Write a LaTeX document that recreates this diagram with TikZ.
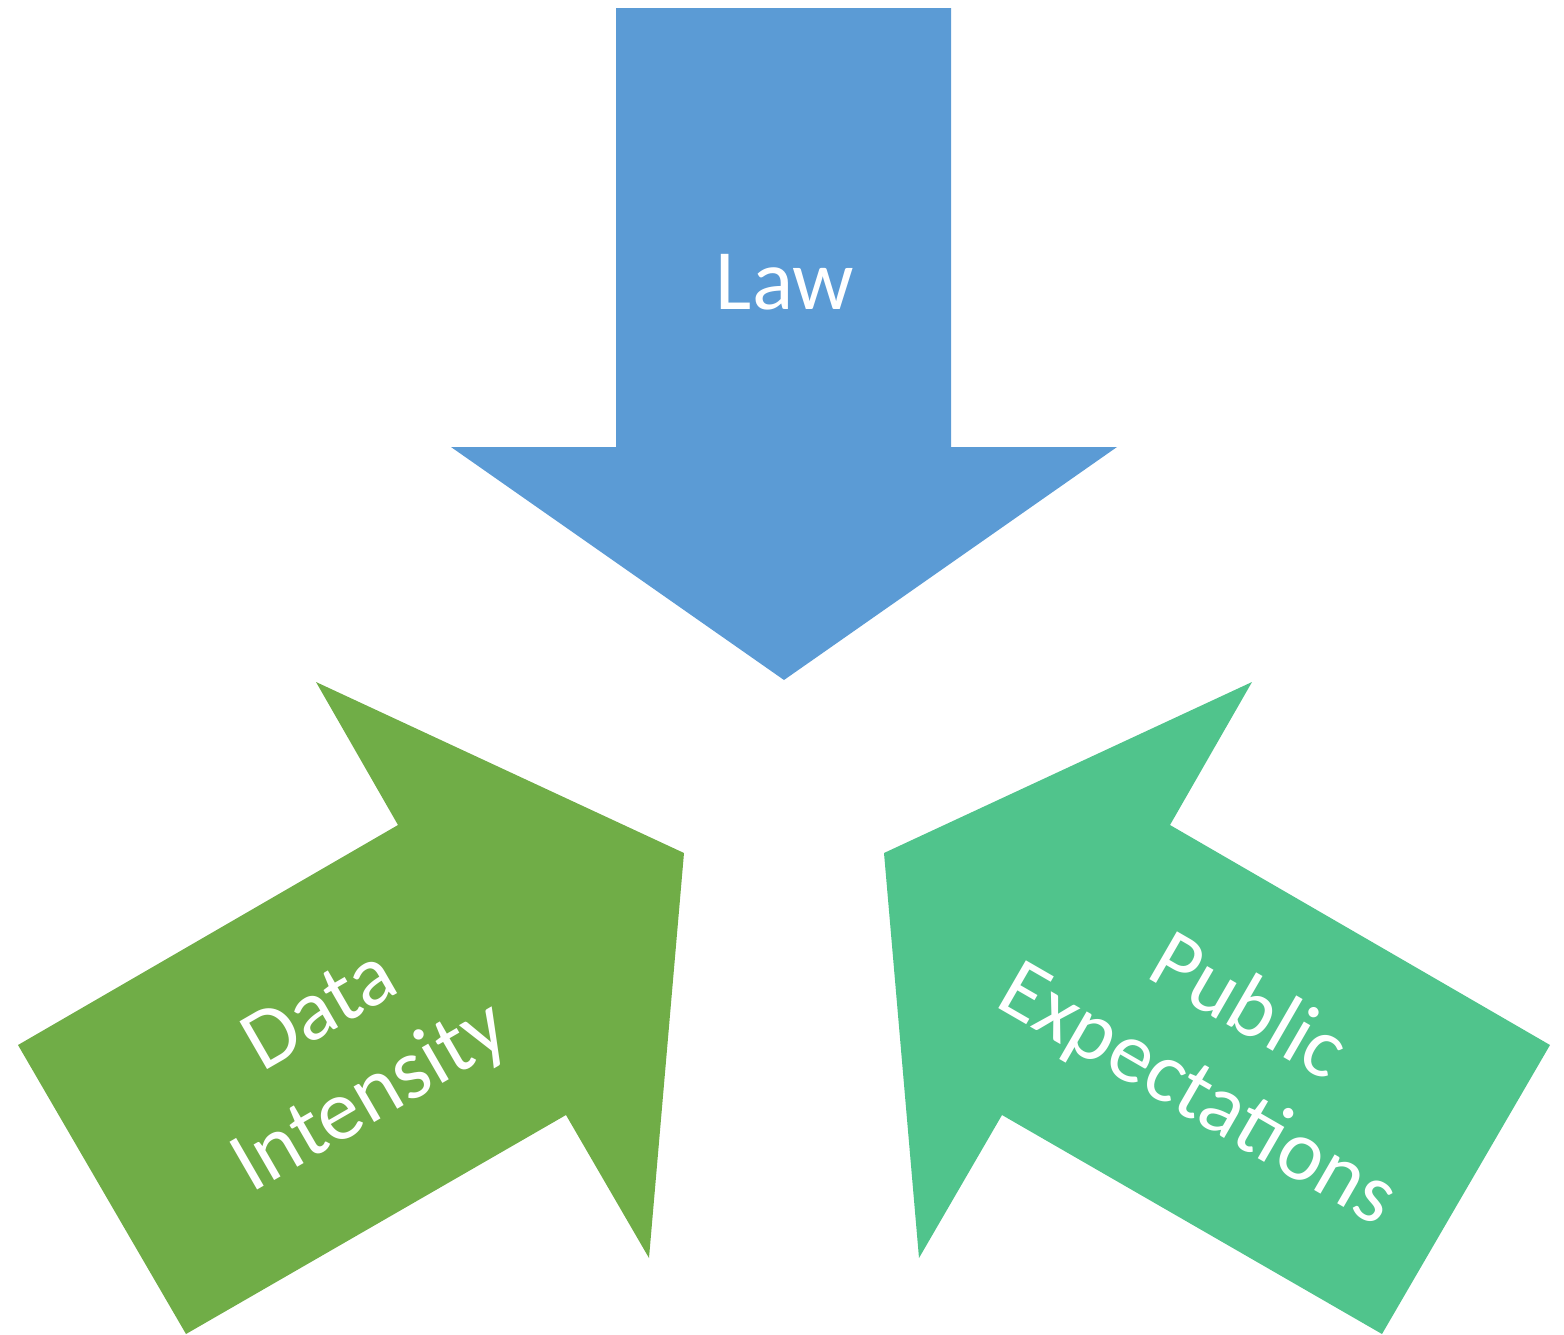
\documentclass[tikz,border=0pt]{standalone}
\usepackage{fontspec}
\setmainfont{Carlito}

\definecolor{lawblue}{HTML}{5B9BD5}
\definecolor{datagreen}{HTML}{70AD47}
\definecolor{publicgreen}{HTML}{50C48C}

\tikzset{
  arrowlabel/.style={text=white, align=center, inner sep=0pt,
    font=\fontsize{43}{50}\selectfont},
}

\begin{document}
\begin{tikzpicture}[x=0.5pt, y=-0.5pt]
  \useasboundingbox (0,0) rectangle (1564,1334);

  % down arrow on top
  \fill[lawblue] (616,8) -- (951,8) -- (951,447) -- (1117,447)
    -- (784,680) -- (451,447) -- (616,447) -- cycle;
  % left arrow, pointing up and right
  \fill[datagreen] (18,1045) -- (398,825) -- (316,682) -- (684,853)
    -- (649,1258) -- (566,1115) -- (186,1334) -- cycle;
  % right arrow, the mirror of the left one
  \fill[publicgreen] (1550,1045) -- (1170,825) -- (1252,682) -- (884,853)
    -- (919,1258) -- (1002,1115) -- (1382,1334) -- cycle;

  \node[arrowlabel] (law) at (785,282) {Law};
  \node[arrowlabel, rotate=30] (data) at (347,1057) {Data\\Intensity};
  \node[arrowlabel, rotate=-30] (public) at (1222,1053) {Public\\Expectations};
\end{tikzpicture}
\end{document}
